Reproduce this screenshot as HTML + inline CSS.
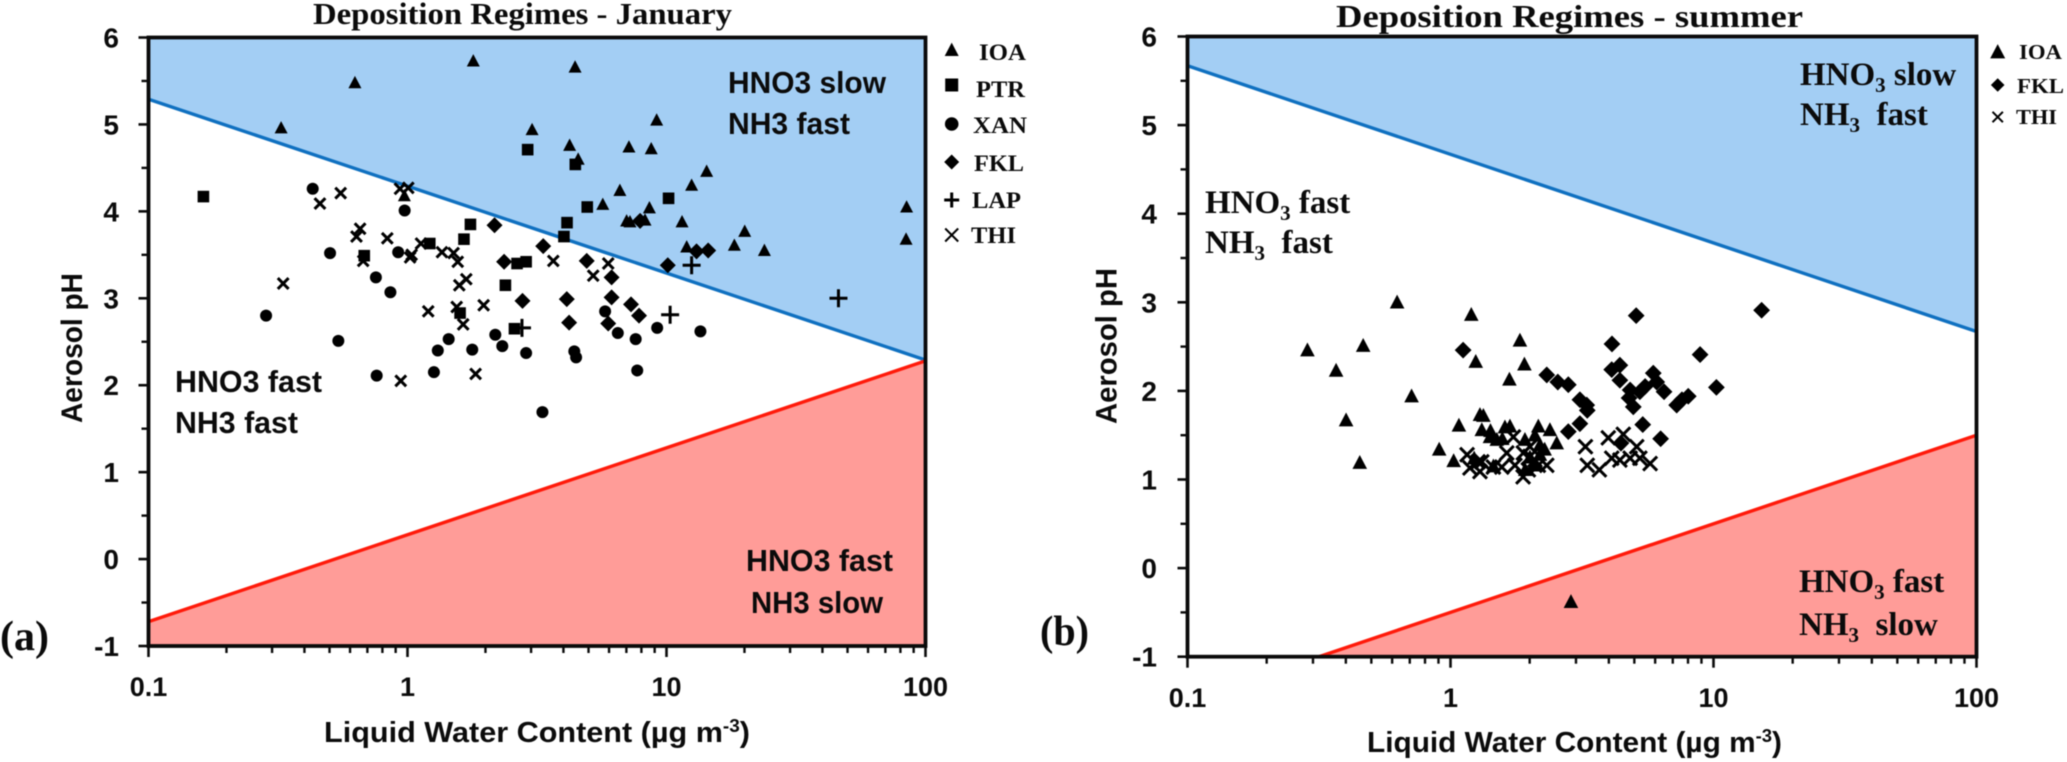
<!DOCTYPE html>
<html lang="en">
<head>
<meta charset="utf-8">
<title>Deposition Regimes - January and summer</title>
<style>
  html, body { margin: 0; padding: 0; background: #fff; }
  #figure { display: block; width: 2067px; height: 762px; filter: blur(0.55px); }
  .sans { font-family: "Liberation Sans", sans-serif; font-weight: 700; fill: #0b0b0b; }
  .serif { font-family: "Liberation Serif", serif; font-weight: 700; fill: #0b0b0b; white-space: pre; }
</style>
</head>
<body>
<svg id="figure" xmlns="http://www.w3.org/2000/svg" width="2067" height="762" viewBox="0 0 2067 762">
  <defs>
    <clipPath id="clip-a"><rect x="148.5" y="37.5" width="777" height="608.5"></rect></clipPath>
    <clipPath id="clip-b"><rect x="1187.5" y="36.5" width="789" height="620.2"></rect></clipPath>
  </defs>
  <g id="panel-a"></g>
  <g id="panel-b"></g>

  <!-- titles -->
  <text class="serif" x="313" y="24" font-size="31" textLength="419" lengthAdjust="spacingAndGlyphs">Deposition Regimes - January</text>
  <text class="serif" x="1336" y="27" font-size="32" textLength="467" lengthAdjust="spacingAndGlyphs">Deposition Regimes - summer</text>

  <!-- panel labels -->
  <text class="serif" x="0" y="650" font-size="42" textLength="49" lengthAdjust="spacingAndGlyphs">(a)</text>
  <text class="serif" x="1040" y="645" font-size="42" textLength="49" lengthAdjust="spacingAndGlyphs">(b)</text>

  <!-- axis titles -->
  <text class="sans" x="324" y="742" font-size="29" textLength="426" lengthAdjust="spacingAndGlyphs">Liquid Water Content (µg m<tspan dy="-10" font-size="18">-3</tspan><tspan dy="10">)</tspan></text>
  <text class="sans" x="1367" y="752" font-size="29" textLength="415" lengthAdjust="spacingAndGlyphs">Liquid Water Content (µg m<tspan dy="-10" font-size="18">-3</tspan><tspan dy="10">)</tspan></text>
  <text class="sans" transform="translate(82 423) rotate(-90)" font-size="30" textLength="150" lengthAdjust="spacingAndGlyphs">Aerosol pH</text>
  <text class="sans" transform="translate(1116.7 424) rotate(-90)" font-size="30" textLength="156" lengthAdjust="spacingAndGlyphs">Aerosol pH</text>

  <!-- regime labels, January -->
  <g>
    <text class="sans" x="728" y="93" font-size="31" textLength="158" lengthAdjust="spacingAndGlyphs">HNO3 slow</text>
    <text class="sans" x="728" y="134" font-size="31" textLength="122" lengthAdjust="spacingAndGlyphs">NH3 fast</text>
    <text class="sans" x="175" y="392" font-size="31" textLength="147" lengthAdjust="spacingAndGlyphs">HNO3 fast</text>
    <text class="sans" x="175" y="433" font-size="31" textLength="123" lengthAdjust="spacingAndGlyphs">NH3 fast</text>
    <text class="sans" x="746" y="571" font-size="31" textLength="147" lengthAdjust="spacingAndGlyphs">HNO3 fast</text>
    <text class="sans" x="751" y="613" font-size="31" textLength="132" lengthAdjust="spacingAndGlyphs">NH3 slow</text>
  </g>

  <!-- regime labels, summer -->
  <g>
    <text class="serif" x="1800" y="85" font-size="33">HNO<tspan dy="7" font-size="21">3</tspan><tspan dy="-7"> slow</tspan></text>
    <text class="serif" x="1800" y="125" font-size="33">NH<tspan dy="7" font-size="21">3</tspan><tspan dy="-7">  fast</tspan></text>
    <text class="serif" x="1205" y="213" font-size="33">HNO<tspan dy="7" font-size="21">3</tspan><tspan dy="-7"> fast</tspan></text>
    <text class="serif" x="1205" y="253" font-size="33">NH<tspan dy="7" font-size="21">3</tspan><tspan dy="-7">  fast</tspan></text>
    <text class="serif" x="1799" y="592" font-size="33">HNO<tspan dy="7" font-size="21">3</tspan><tspan dy="-7"> fast</tspan></text>
    <text class="serif" x="1799" y="635" font-size="33">NH<tspan dy="7" font-size="21">3</tspan><tspan dy="-7">  slow</tspan></text>
  </g>

  <!-- legend text, January -->
  <g id="legend-a">
    <text class="serif" x="979" y="60" font-size="23" textLength="47" lengthAdjust="spacingAndGlyphs">IOA</text>
    <text class="serif" x="976" y="97" font-size="23" textLength="49" lengthAdjust="spacingAndGlyphs">PTR</text>
    <text class="serif" x="973" y="133" font-size="23" textLength="54" lengthAdjust="spacingAndGlyphs">XAN</text>
    <text class="serif" x="974" y="171" font-size="23" textLength="50" lengthAdjust="spacingAndGlyphs">FKL</text>
    <text class="serif" x="972" y="208" font-size="23" textLength="49" lengthAdjust="spacingAndGlyphs">LAP</text>
    <text class="serif" x="971" y="243" font-size="23" textLength="45" lengthAdjust="spacingAndGlyphs">THI</text>
  </g>

  <!-- legend text, summer -->
  <g id="legend-b">
    <text class="serif" x="2019" y="59" font-size="21" textLength="43" lengthAdjust="spacingAndGlyphs">IOA</text>
    <text class="serif" x="2017" y="93" font-size="21" textLength="47" lengthAdjust="spacingAndGlyphs">FKL</text>
    <text class="serif" x="2016" y="124" font-size="21" textLength="41" lengthAdjust="spacingAndGlyphs">THI</text>
  </g>
</svg>

<script>
// Axis ticks
const yTickValues = [-1, 0, 1, 2, 3, 4, 5, 6];
const yMinorTickValues = [-0.5, 0.5, 1.5, 2.5, 3.5, 4.5, 5.5];
const xTickValues = [0.1, 1, 10, 100];
const xTickLabels = ['0.1', '1', '10', '100'];
const xMinorMultiples = [2, 3, 4, 5, 6, 7, 8, 9];

// Regime boundaries: pH at LWC = 0.1 and LWC = 100
const boundaryLwc = [0.1, 100];
const janBlueBoundary = [5.29, 2.29];
const janRedBoundary = [-0.72, 2.28];
const sumBlueBoundary = [5.67, 2.67];
const sumRedBoundary = [-1.5, 1.5];

// January series: log10(LWC) and pH
const janIoaLogLwc = [-0.488, -0.203, 0.254, 0.647, 0.481, 0.962, 0.626, 0.855, 0.941, 0.659, 1.155, 0.820, 1.097, 0.754, 0.934, 0.846, 0.859, 0.917, 1.060, 1.078, 1.262, 1.302, 1.378, 1.927, 1.925, -0.012];
const janIoaPH = [4.96, 5.48, 5.73, 5.66, 4.94, 5.05, 4.76, 4.74, 4.72, 4.60, 4.46, 4.24, 4.30, 4.08, 4.04, 3.89, 3.88, 3.90, 3.88, 3.59, 3.61, 3.77, 3.55, 4.05, 3.68, 4.18];

const janPtrLogLwc = [-0.788, -0.167, 0.086, 0.218, 0.243, 0.423, 0.458, 0.378, 0.203, 0.413, 0.464, 0.648, 1.008, 0.694, 0.616, 0.604];
const janPtrPH = [4.17, 3.49, 3.63, 3.68, 3.85, 3.40, 3.42, 3.15, 2.83, 2.65, 4.71, 4.54, 4.15, 4.05, 3.87, 3.71];

const janXanLogLwc = [-0.366, -0.011, -0.299, -0.036, -0.122, -0.066, -0.546, -0.267, 0.159, 0.117, 0.25, 0.339, 0.366, 0.458, -0.119, 0.102, 0.521, 0.644, 0.651, 0.763, 0.812, 0.881, 0.964, 1.131, 0.887];
const janXanPH = [4.26, 4.01, 3.52, 3.53, 3.24, 3.07, 2.80, 2.51, 2.53, 2.40, 2.41, 2.58, 2.45, 2.37, 2.11, 2.15, 1.69, 2.39, 2.32, 2.85, 2.60, 2.53, 2.66, 2.62, 2.17];

const janFklLogLwc = [0.336, 0.524, 0.373, 0.692, 0.788, 1.005, 1.116, 1.161, 0.898, 0.444, 0.615, 0.788, 0.863, 0.894, 0.624, 0.775];
const janFklPH = [3.84, 3.60, 3.42, 3.43, 3.24, 3.38, 3.54, 3.55, 3.89, 2.97, 2.99, 3.01, 2.93, 2.80, 2.72, 2.71];

const janLapLogLwc = [1.097, 1.014, 0.442, 1.664];
const janLapPH = [3.38, 2.81, 2.66, 3.00];

const janThiLogLwc = [-0.48, -0.338, -0.258, -0.029, 0.003, -0.183, -0.197, -0.078, -0.171, 0.01, 0.016, 0.052, 0.133, 0.178, 0.194, 0.227, 0.2, 0.08, 0.19, 0.294, 0.215, -0.026, 0.263, 0.563, 0.775, 0.717];
const janThiPH = [3.17, 4.09, 4.21, 4.26, 4.27, 3.80, 3.71, 3.69, 3.43, 3.47, 3.50, 3.63, 3.53, 3.52, 3.42, 3.22, 3.15, 2.85, 2.90, 2.92, 2.70, 2.05, 2.13, 3.43, 3.40, 3.26];

// Summer series: log10(LWC) and pH
const sumIoaLogLwc = [-0.203, 0.079, -0.544, -0.332, -0.435, 0.096, -0.148, -0.345, -0.397, -0.043, 0.032, 0.112, 0.012, 0.152, 0.197, 0.264, 0.281, 0.224, 0.125, 0.207, 0.226, 0.334, 0.378, 0.321, 0.404, 0.15, 0.119, 0.176, 0.34, 0.283, 0.458, 0.302, 0.321, 0.163, 0.284, 0.34, 0.09, 0.358];
const sumIoaPH = [3.00, 2.86, 2.46, 2.51, 2.23, 2.33, 1.94, 1.19, 1.67, 1.34, 1.61, 1.73, 1.21, 1.55, 1.46, 2.57, 2.30, 2.13, 1.72, 1.59, 1.60, 1.60, 1.56, 1.50, 1.41, 1.48, 1.56, 1.45, 1.39, 1.45, -0.38, 1.25, 1.16, 1.15, 1.11, 1.28, 1.24, 1.34];

const sumFklLogLwc = [0.048, 0.706, 0.614, 0.949, 1.011, 1.183, 0.366, 0.408, 0.448, 0.492, 0.518, 0.52, 0.492, 0.448, 0.613, 0.644, 0.644, 0.683, 0.679, 0.695, 0.74, 0.771, 0.784, 0.812, 0.86, 0.904, 0.88, 0.731, 0.799, 0.648, 0.72];
const sumFklPH = [2.46, 2.85, 2.53, 2.41, 2.04, 2.91, 2.18, 2.10, 2.07, 1.90, 1.84, 1.78, 1.63, 1.54, 2.24, 2.29, 2.12, 2.01, 1.92, 1.82, 2.05, 2.20, 2.10, 1.99, 1.84, 1.94, 1.90, 1.62, 1.46, 1.41, 1.99];

const sumThiLogLwc = [0.513, 0.52, 0.566, 0.6, 0.657, 0.613, 0.644, 0.683, 0.708, 0.72, 0.759, 0.302, 0.296, 0.334, 0.277, 0.366, 0.302, 0.321, 0.239, 0.214, 0.195, 0.163, 0.119, 0.112, 0.276, 0.063, 0.074, 0.105, 0.245];
const sumThiPH = [1.37, 1.16, 1.11, 1.47, 1.51, 1.24, 1.22, 1.24, 1.37, 1.24, 1.18, 1.26, 1.11, 1.16, 1.30, 1.16, 1.37, 1.22, 1.48, 1.30, 1.14, 1.14, 1.20, 1.09, 1.03, 1.28, 1.13, 1.20, 1.16];

const NS = 'http://www.w3.org/2000/svg';

function makeAxes(left, decade, top, unit) {
  return {
    left: left,
    right: left + 3 * decade,
    top: top,
    bottom: top + 7 * unit,
    x: function (logLwc) { return left + (logLwc + 1) * decade; },
    y: function (ph) { return top + (6 - ph) * unit; }
  };
}

function svgEl(parent, tag, attrs) {
  const el = document.createElementNS(NS, tag);
  for (const key in attrs) { el.setAttribute(key, attrs[key]); }
  parent.appendChild(el);
  return el;
}

function drawMark(parent, shape, cx, cy, size, name, crossWidth) {
  const s = size;
  let el;
  if (shape === 'triangle') {
    el = svgEl(parent, 'polygon', { points: (cx - s) + ',' + (cy + s * 0.85) + ' ' + (cx + s) + ',' + (cy + s * 0.85) + ' ' + cx + ',' + (cy - s * 1.05), fill: '#000' });
  } else if (shape === 'square') {
    el = svgEl(parent, 'rect', { x: cx - s, y: cy - s, width: 2 * s, height: 2 * s, fill: '#000' });
  } else if (shape === 'circle') {
    el = svgEl(parent, 'circle', { cx: cx, cy: cy, r: s, fill: '#000' });
  } else if (shape === 'diamond') {
    el = svgEl(parent, 'polygon', { points: cx + ',' + (cy - s) + ' ' + (cx + s) + ',' + cy + ' ' + cx + ',' + (cy + s) + ' ' + (cx - s) + ',' + cy, fill: '#000' });
  } else if (shape === 'plus') {
    el = svgEl(parent, 'path', { d: 'M' + (cx - s) + ' ' + cy + 'H' + (cx + s) + 'M' + cx + ' ' + (cy - s) + 'V' + (cy + s), stroke: '#000', 'stroke-width': 3, fill: 'none' });
  } else {
    el = svgEl(parent, 'path', { d: 'M' + (cx - s) + ' ' + (cy - s) + 'L' + (cx + s) + ' ' + (cy + s) + 'M' + (cx + s) + ' ' + (cy - s) + 'L' + (cx - s) + ' ' + (cy + s), stroke: '#000', 'stroke-width': crossWidth || 3, fill: 'none' });
  }
  
  
  return el;
}

function drawSeries(parent, axes, seriesName, shape, size, logLwc, ph) {
  const group = svgEl(parent, 'g', {});
  
  
  logLwc.forEach(function (lx, i) {
    drawMark(group, shape, axes.x(lx), axes.y(ph[i]), size, seriesName + '-point');
  });
}

function drawBackground(parent, axes, blue, red, clipId) {
  const xa = axes.x(Math.log10(boundaryLwc[0]));
  const xb = axes.x(Math.log10(boundaryLwc[1]));
  const regions = svgEl(parent, 'g', { 'clip-path': 'url(#' + clipId + ')' });
  
  

  const blueArea = svgEl(regions, 'polygon', { points: xa + ',' + axes.y(6) + ' ' + xb + ',' + axes.y(6) + ' ' + xb + ',' + axes.y(blue[1]) + ' ' + xa + ',' + axes.y(blue[0]), fill: '#A3CEF4' });
  
  

  const redArea = svgEl(regions, 'polygon', { points: xa + ',' + axes.y(red[0]) + ' ' + xb + ',' + axes.y(red[1]) + ' ' + xb + ',' + axes.y(-1) + ' ' + xa + ',' + axes.y(-1), fill: '#FF9C98' });
  
  

  const blueLine = svgEl(regions, 'line', { x1: xa, y1: axes.y(blue[0]), x2: xb, y2: axes.y(blue[1]), stroke: '#0F70C0', 'stroke-width': 3.4 });
  
  

  const redLine = svgEl(regions, 'line', { x1: xa, y1: axes.y(red[0]), x2: xb, y2: axes.y(red[1]), stroke: '#FF1A0A', 'stroke-width': 3.4 });
  
  
}

function drawAxes(parent, axes, yLabelRight, xLabelBaseline) {
  const frame = svgEl(parent, 'rect', { x: axes.left, y: axes.top, width: axes.right - axes.left, height: axes.bottom - axes.top, fill: 'none', stroke: '#0a0a0a', 'stroke-width': 3.8 });
  
  

  yTickValues.forEach(function (v) {
    const tick = svgEl(parent, 'line', { x1: axes.left - 10, x2: axes.left, y1: axes.y(v), y2: axes.y(v), stroke: '#0a0a0a', 'stroke-width': 2.6 });
    
    
    const label = svgEl(parent, 'text', { x: yLabelRight, y: axes.y(v) + 10, 'text-anchor': 'end', 'font-size': 28, class: 'sans' });
    
    
    label.textContent = String(v);
  });

  yMinorTickValues.forEach(function (v) {
    const tick = svgEl(parent, 'line', { x1: axes.left - 7, x2: axes.left, y1: axes.y(v), y2: axes.y(v), stroke: '#0a0a0a', 'stroke-width': 2.4 });
    
    
  });

  xTickValues.forEach(function (v, i) {
    const px = axes.x(Math.log10(v));
    const tick = svgEl(parent, 'line', { x1: px, x2: px, y1: axes.bottom, y2: axes.bottom + 11, stroke: '#0a0a0a', 'stroke-width': 2.6 });
    
    
    const label = svgEl(parent, 'text', { x: px, y: xLabelBaseline, 'text-anchor': 'middle', 'font-size': 27, class: 'sans' });
    
    
    label.textContent = xTickLabels[i];
    if (i < xTickValues.length - 1) {
      xMinorMultiples.forEach(function (m) {
        const mx = axes.x(Math.log10(v * m));
        const minor = svgEl(parent, 'line', { x1: mx, x2: mx, y1: axes.bottom, y2: axes.bottom + 7, stroke: '#0a0a0a', 'stroke-width': 2.4 });
        
        
      });
    }
  });
}

const axesA = makeAxes(148.5, 259, 37.5, 86.93);
const axesB = makeAxes(1187.5, 263, 36.5, 88.6);
const panelA = document.getElementById('panel-a');
const panelB = document.getElementById('panel-b');

drawBackground(panelA, axesA, janBlueBoundary, janRedBoundary, 'clip-a');
drawAxes(panelA, axesA, 119, 696);
drawSeries(panelA, axesA, 'ioa', 'triangle', 6.5, janIoaLogLwc, janIoaPH);
drawSeries(panelA, axesA, 'ptr', 'square', 5.8, janPtrLogLwc, janPtrPH);
drawSeries(panelA, axesA, 'xan', 'circle', 6, janXanLogLwc, janXanPH);
drawSeries(panelA, axesA, 'fkl', 'diamond', 8, janFklLogLwc, janFklPH);
drawSeries(panelA, axesA, 'lap', 'plus', 9, janLapLogLwc, janLapPH);
drawSeries(panelA, axesA, 'thi', 'cross', 5.4, janThiLogLwc, janThiPH);

drawBackground(panelB, axesB, sumBlueBoundary, sumRedBoundary, 'clip-b');
drawAxes(panelB, axesB, 1157, 707);
drawSeries(panelB, axesB, 'ioa', 'triangle', 7.3, sumIoaLogLwc, sumIoaPH);
drawSeries(panelB, axesB, 'fkl', 'diamond', 8.4, sumFklLogLwc, sumFklPH);
drawSeries(panelB, axesB, 'thi', 'cross', 7, sumThiLogLwc, sumThiPH);

const legendA = document.getElementById('legend-a');
drawMark(legendA, 'triangle', 951.7, 50, 7, 'legend-marker-ioa');
drawMark(legendA, 'square', 951.7, 85, 6.5, 'legend-marker-ptr');
drawMark(legendA, 'circle', 951.7, 124, 6.8, 'legend-marker-xan');
drawMark(legendA, 'diamond', 951.7, 162, 7.5, 'legend-marker-fkl');
drawMark(legendA, 'plus', 951.7, 200, 7.5, 'legend-marker-lap');
drawMark(legendA, 'cross', 951.7, 235, 6.5, 'legend-marker-thi', 2);

const legendB = document.getElementById('legend-b');
drawMark(legendB, 'triangle', 1997.7, 52, 7.5, 'legend-marker-ioa');
drawMark(legendB, 'diamond', 1997.7, 85, 6.8, 'legend-marker-fkl');
drawMark(legendB, 'cross', 1997.7, 117, 5.2, 'legend-marker-thi', 2);
</script>
</body>
</html>
